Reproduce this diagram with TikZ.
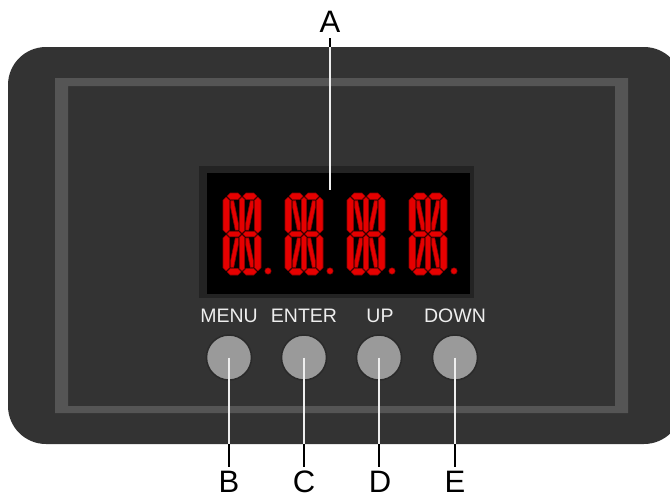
\documentclass[tikz,border=0pt]{standalone}
\usepackage{fontspec}
\setmainfont{Liberation Sans}
\definecolor{panel}{HTML}{333333}
\definecolor{framec}{HTML}{555555}
\definecolor{dispborder}{HTML}{232323}
\definecolor{btnfill}{HTML}{9A9A9A}
\definecolor{btnring}{HTML}{2A2A2A}
\definecolor{segfill}{HTML}{E60000}
\definecolor{segline}{HTML}{8C0000}
\definecolor{lbltext}{HTML}{EEEEEE}
\newcommand\hseg[4]{\filldraw[seg] (#1,#3) -- ({#1+#4},{#3-#4}) -- ({#2-#4},{#3-#4}) -- (#2,#3) -- ({#2-#4},{#3+#4}) -- ({#1+#4},{#3+#4}) -- cycle;}
\newcommand\vseg[4]{\filldraw[seg] (#1,#2) -- ({#1+#4},{#2+#4}) -- ({#1+#4},{#3-#4}) -- (#1,#3) -- ({#1-#4},{#3-#4}) -- ({#1-#4},{#2+#4}) -- cycle;}
\newcommand\dseg[6]{\filldraw[seg] (#1,#2) -- ({#1+3*#5},#2) -- (#3,{#4-7*#6}) -- (#3,#4) -- ({#3-3*#5},#4) -- (#1,{#2+7*#6}) -- cycle;}
\tikzset{
  seg/.style={fill=segfill, draw=segline, line width=0.6pt, line join=round},
  digit/.pic={
    \hseg{4.05}{18.2}{3.25}{3.25}
    \hseg{19.8}{33.95}{3.25}{3.25}
    \hseg{4.05}{18.2}{78.75}{3.25}
    \hseg{19.8}{33.95}{78.75}{3.25}
    \hseg{4.05}{18.2}{41}{2.75}
    \hseg{19.8}{33.95}{41}{2.75}
    \vseg{3.25}{4.05}{40.2}{3.25}
    \vseg{3.25}{41.8}{77.95}{3.25}
    \vseg{34.75}{4.05}{40.2}{3.25}
    \vseg{34.75}{41.8}{77.95}{3.25}
    \vseg{19}{4.05}{40.2}{2.5}
    \vseg{19}{41.8}{77.95}{2.5}
    \dseg{7.7}{7.7}{15.3}{37.05}{1}{1}
    \dseg{30.3}{7.7}{22.7}{37.05}{-1}{1}
    \dseg{7.7}{74.3}{15.3}{44.95}{1}{-1}
    \dseg{30.3}{74.3}{22.7}{44.95}{-1}{-1}
    \filldraw[seg] (45,78) circle (3.2);
  },
  btn/.style={circle, minimum size=45pt, inner sep=0pt, fill=btnfill, draw=btnring, line width=1.5pt},
  btnlabel/.style={anchor=base, inner sep=0pt, text=lbltext, font=\fontsize{19.5}{19.5}\selectfont},
  letter/.style={anchor=base, inner sep=0pt, text height=22pt, text depth=0pt, text=black, font=\fontsize{31}{31}\selectfont},
  wht/.style={draw=lbltext, line width=1.8pt},
  blk/.style={draw=black, line width=1.8pt},
}
\begin{document}
\begin{tikzpicture}[x=1pt, y=-1pt]
  \useasboundingbox (0,0) rectangle (670,499);
  \begin{scope}
    \clip (0,0) rectangle (670,499);
    % panel
    \fill[panel, rounded corners=38pt] (8,47) rectangle (682,444);
    % inner frame
    \fill[framec, even odd rule] (55,78) rectangle (628,413) (68,86) rectangle (615,406);
    % display
    \fill[dispborder] (199,166) rectangle (474,298);
    \fill[black] (207,173) rectangle (470,294);
  \end{scope}
  % digits
  \pic at (223,193) {digit};
  \pic at (285,193) {digit};
  \pic at (347,193) {digit};
  \pic at (409,193) {digit};
  % button labels
  \node[btnlabel] (lmenu)  at (229,322) {MENU};
  \node[btnlabel] (lenter) at (304,322) {ENTER};
  \node[btnlabel] (lup)    at (380,322) {UP};
  \node[btnlabel] (ldown)  at (455,322) {DOWN};
  % buttons
  \node[btn] (b1) at (229,357.5) {};
  \node[btn] (b2) at (304,357.5) {};
  \node[btn] (b3) at (379,357.5) {};
  \node[btn] (b4) at (455,357.5) {};
  % letters
  \node[letter] (A) at (330,32) {A};
  \node[letter] (B) at (229,492) {B};
  \node[letter] (C) at (304,492) {C};
  \node[letter] (D) at (380,492) {D};
  \node[letter] (E) at (455,492) {E};
  % leader A
  \coordinate (pA) at (330,47);
  \coordinate (eA) at (330,190);
  \draw[blk, shorten <=6pt] (A.south) -- (pA);
  \draw[wht] (pA) -- (eA);
  % leaders B-E
  \coordinate (p1) at (229,444);
  \coordinate (p2) at (304,444);
  \coordinate (p3) at (379,444);
  \coordinate (p4) at (455,444);
  \draw[wht] (b1.center) -- (p1);
  \draw[wht] (b2.center) -- (p2);
  \draw[wht] (b3.center) -- (p3);
  \draw[wht] (b4.center) -- (p4);
  \draw[blk, shorten >=3pt] (p1) -- (p1 |- B.north);
  \draw[blk, shorten >=3pt] (p2) -- (p2 |- C.north);
  \draw[blk, shorten >=3pt] (p3) -- (p3 |- D.north);
  \draw[blk, shorten >=3pt] (p4) -- (p4 |- E.north);
\end{tikzpicture}
\end{document}
